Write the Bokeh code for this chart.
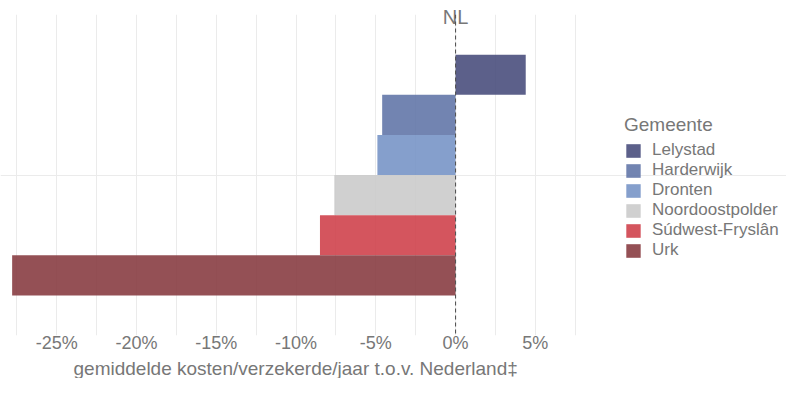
from bokeh.plotting import figure
from bokeh.models import (Range1d, FixedTicker, Span, Legend, LegendItem,
                          ColumnDataSource, LinearAxis, Title)
from bokeh.embed import file_html
from bokeh.resources import INLINE

# ---- data ----
gemeenten = ["Lelystad", "Harderwijk", "Dronten", "Noordoostpolder",
             "Súdwest-Fryslân", "Urk"]
verschil = [4.4, -4.6, -4.9, -7.6, -8.5, -27.8]
kleuren = ["#4a4f7d", "#6377a9", "#7895c7", "#cbcbcb", "#cf424d", "#883d42"]
tick_values = [-25, -20, -15, -10, -5, 0, 5]
tick_labels = ["-25%", "-20%", "-15%", "-10%", "-5%", "0%", "5%"]
minor_values = [-27.5, -22.5, -17.5, -12.5, -7.5, -2.5, 2.5, 7.5]
nl_value = [0]
nl_label = ["NL"]
x_titel = "gemiddelde kosten/verzekerde/jaar t.o.v. Nederland‡"
legend_titel = "Gemeente"

# dodge positions within the single category (ggplot style, width 0.9)
n = len(gemeenten)
bw = 0.9 / n
ypos = [1 + 0.45 - bw * (i + 0.5) for i in range(n)]

src = ColumnDataSource(dict(g=gemeenten, v=verschil, c=kleuren, y=ypos))

FONT = "Liberation Sans"
TXT = "#777777"
X0, X1 = -28.53, 9.72          # visible panel extent (ggplot panel)

p = figure(width=786, height=378, output_backend="svg", toolbar_location=None,
           x_range=Range1d(X0, 20.75), y_range=Range1d(0.4, 1.6),
           min_border_left=0, min_border_right=0, min_border_top=14,
           min_border_bottom=0)
p.outline_line_color = None
p.background_fill_color = "white"

# grid
p.xaxis.ticker = FixedTicker(ticks=tick_values, minor_ticks=minor_values)
p.xgrid.ticker = FixedTicker(ticks=tick_values, minor_ticks=minor_values)
p.xgrid.grid_line_color = "#ebebeb"
p.xgrid.minor_grid_line_color = "#ebebeb"
p.ygrid.ticker = FixedTicker(ticks=[1])
p.ygrid.grid_line_color = "#ebebeb"
p.ygrid.bounds = (X0, X1)
p.yaxis.visible = False

# x axis
ax = p.xaxis[0]
ax.axis_line_color = None
ax.major_tick_line_color = None
ax.minor_tick_line_color = None
ax.major_tick_out = 0
ax.major_tick_in = 0
ax.minor_tick_out = 0
ax.major_label_overrides = {v: l for v, l in zip(tick_values, tick_labels)}
ax.major_label_text_font = FONT
ax.major_label_text_font_size = "18px"
ax.major_label_text_color = TXT
ax.major_label_standoff = -3

# "NL" marker on top of the dashed line
top = LinearAxis(ticker=FixedTicker(ticks=nl_value, minor_ticks=[]),
                 major_label_overrides={v: l for v, l in zip(nl_value, nl_label)},
                 axis_line_color=None, major_tick_line_color=None,
                 minor_tick_line_color=None, major_tick_out=0,
                 major_label_standoff=-13, major_label_text_font=FONT,
                 major_label_text_font_size="20px", major_label_text_color=TXT)
p.add_layout(top, "above")

r = p.hbar(y="y", height=bw, left=0, right="v", fill_color="c", fill_alpha=0.9,
           line_color=None, source=src)

p.add_layout(Span(location=0, dimension="height", line_dash="4 3",
                  line_color="#555555", line_width=1.1))

p.add_layout(Title(text=x_titel, align="left", offset=73, standoff=0,
                   text_font=FONT, text_font_size="19px", text_line_height=1.0,
                   text_font_style="normal", text_color=TXT), "below")

items = [LegendItem(label=g, renderers=[r], index=i) for i, g in enumerate(gemeenten)]
legend = Legend(items=items, location=(624, 75), title=legend_titel,
                title_text_font=FONT, title_text_font_size="19px",
                title_text_color=TXT, title_text_font_style="normal",
                title_text_line_height=1.0, title_standoff=4,
                label_text_font=FONT, label_text_font_size="17px",
                label_text_line_height=0.95,
                label_text_color=TXT, label_standoff=10,
                glyph_width=18, glyph_height=17, label_height=17,
                spacing=0, padding=4, margin=0,
                border_line_color=None, background_fill_alpha=0)
p.add_layout(legend, "center")

open("out.html", "w").write(file_html(p, INLINE))
